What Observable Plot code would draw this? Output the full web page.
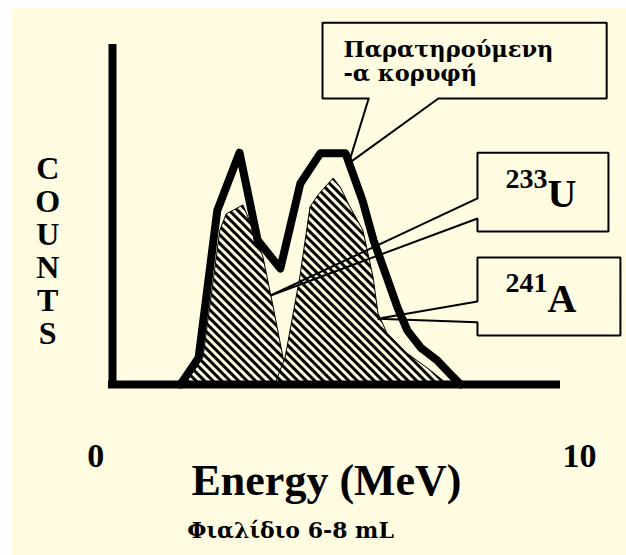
<!DOCTYPE html>
<html>
<head>
<meta charset="utf-8">
<script src="https://cdn.jsdelivr.net/npm/d3@7"></script>
<script src="https://cdn.jsdelivr.net/npm/@observablehq/plot@0.6"></script>
<style>
  html, body { margin: 0; padding: 0; background: #ffffff; }
  #chart { position: absolute; left: 12px; top: 8px; width: 614px; height: 547px; background: #FFFCE1; overflow: hidden; }
  #chart svg { display: block; }
</style>
</head>
<body>
<div id="chart"></div>
<script>
// Observed alpha spectrum (envelope): energy in MeV, counts in arbitrary units
const observedEnergy = [1.53, 1.94, 2.36, 2.86, 3.27, 3.78, 4.23, 4.68, 5.25, 5.63, 5.88, 6.10, 6.42, 6.64, 6.94, 7.32, 7.68, 7.84];
const observedCounts = [0, 8.0, 51.8, 69.0, 42.9, 34.5, 59.8, 68.8, 68.8, 54.8, 42.9, 34.8, 22.9, 16.1, 11.0, 7.1, 2.1, 0];

// 233U component
const u233Energy = [1.64, 2.05, 2.43, 2.57, 2.95, 3.18, 3.40, 3.63, 3.85, 4.05];
const u233Counts = [0, 8.0, 45.8, 50.6, 53.3, 45.8, 37.8, 22.9, 8.0, 0];

// 241A component
const a241Energy = [3.67, 3.90, 4.23, 4.46, 4.64, 4.98, 5.14, 5.36, 5.65, 5.88, 5.99, 6.19, 6.64, 7.16, 7.55];
const a241Counts = [0, 8.0, 31.8, 52.7, 56.3, 61.3, 58.6, 52.7, 45.8, 31.8, 21.1, 15.2, 9.2, 4.2, 0];

// Axis text
const xTickText = ["0", "10"];
const xLabel = "Energy (MeV)";
const caption = "Φιαλίδιο 6-8 mL";
const yLetters = ["C", "O", "U", "N", "T", "S"];

// Callout texts
const peakTitle = ["Παρατηρούμενη", "-α κορυφή"];
const isotopeMass = ["233", "241"];
const isotopeSymbol = ["U", "A"];

// Callout geometry in data units: box [x1, x2, y1, y2], pointer base, pointer tip
const peakBox = [4.73, 11.13, 85.1, 107.7], peakBase = [5.77, 7.34], peakTip = [5.32, 65.8];
const uBox = [8.22, 11.17, 45.5, 69.0], uBase = [55.4, 49.4], uTip = [3.56, 26.5];
const aBox = [8.22, 11.44, 14.6, 37.8], aBase = [24.7, 18.5], aTip = [5.97, 19.6];

const zip = (xs, ys) => xs.map((x, i) => ({energy: x, counts: ys[i]}));
const observed = zip(observedEnergy, observedCounts);
const u233 = zip(u233Energy, u233Counts);
const a241 = zip(a241Energy, a241Counts);

// Outline of a box whose pointer leaves from its bottom edge
function bottomCallout([x1, x2, y1, y2], [b1, b2], tip) {
  return [[b1, y1], [x1, y1], [x1, y2], [x2, y2], [x2, y1], [b2, y1], tip, [b1, y1]];
}
// Outline of a box whose pointer leaves from its left edge
function leftCallout([x1, x2, y1, y2], [b1, b2], tip) {
  return [[x1, b1], [x1, y2], [x2, y2], [x2, y1], [x1, y1], [x1, b2], tip, [x1, b1]];
}
const callouts = [
  bottomCallout(peakBox, peakBase, peakTip),
  leftCallout(uBox, uBase, uTip),
  leftCallout(aBox, aBase, aTip)
];

const ink = "#000000";
const paper = "#FFFCE1";
const serif = "'Liberation Serif', 'Times New Roman', serif";
const greekSerif = "'DejaVu Serif', 'Liberation Serif', serif";
const calloutMarks = callouts.map(pts =>
  Plot.line(pts, {x: d => d[0], y: d => d[1], stroke: ink, strokeWidth: 2, strokeLinejoin: "miter"})
);

const chart = Plot.plot({
  width: 614,
  height: 547,
  marginLeft: 100,
  marginRight: 70,
  marginTop: 40,
  marginBottom: 171,
  style: {background: "transparent", overflow: "visible", fontFamily: serif, fontWeight: "bold"},
  x: {domain: [0, 10], axis: null},
  y: {domain: [0, 100], axis: null},
  marks: [
    // the two isotope components, hatched
    Plot.areaY(u233, {x: "energy", y: "counts", fill: "url(#hatch)", stroke: ink, strokeWidth: 1}),
    Plot.areaY(a241, {x: "energy", y: "counts", fill: "url(#hatch)", stroke: ink, strokeWidth: 1}),
    // observed envelope
    Plot.line(observed, {x: "energy", y: "counts", stroke: ink, strokeWidth: 8, strokeLinejoin: "round"}),
    // axes
    Plot.ruleX([0], {y1: 0, y2: 100, stroke: ink, strokeWidth: 8, strokeLinecap: "square"}),
    Plot.ruleY([0], {x1: 0, x2: 10, stroke: ink, strokeWidth: 8, strokeLinecap: "square"}),
    ...calloutMarks,
    // callout texts
    Plot.text([peakTitle.join("\n")], {x: 5.20, y: 102.6, text: d => d, textAnchor: "start", lineAnchor: "top", lineHeight: 1.06, fontSize: 22.5, fontFamily: greekSerif, fill: ink}),
    Plot.text(isotopeMass, {x: 9.80, y: (d, i) => [61.3, 30.1][i], text: d => d, textAnchor: "end", fontSize: 28, fill: ink}),
    Plot.text(isotopeSymbol, {x: 9.80, y: (d, i) => [56.5, 25.3][i], text: d => d, textAnchor: "start", fontSize: 40, fill: ink}),
    // vertical COUNTS label, one letter per line
    Plot.text([yLetters.join("\n")], {x: -1.46, y: 39.7, text: d => d, lineAnchor: "middle", lineHeight: 1.03, fontSize: 32, fill: ink}),
    // x tick labels, axis title and caption
    Plot.text(xTickText, {x: (d, i) => [-0.38, 10.52][i], y: -21.4, text: d => d, fontSize: 34, fill: ink}),
    Plot.text([xLabel], {x: 4.82, y: -28.8, text: d => d, fontSize: 44, fill: ink}),
    Plot.text([caption], {x: 4.01, y: -43.5, text: d => d, fontSize: 22, fontFamily: greekSerif, fill: ink})
  ]
});

// diagonal hatch used by the component areas
const defs = d3.select(chart).insert("defs", ":first-child");
const pat = defs.append("pattern")
  .attr("id", "hatch")
  .attr("patternUnits", "userSpaceOnUse")
  .attr("width", 6).attr("height", 6)
  .attr("patternTransform", "rotate(45)");
pat.append("rect").attr("width", 6).attr("height", 6).attr("fill", paper);
pat.append("rect").attr("width", 6).attr("height", 3).attr("fill", ink);

document.getElementById("chart").appendChild(chart);
</script>
</body>
</html>
